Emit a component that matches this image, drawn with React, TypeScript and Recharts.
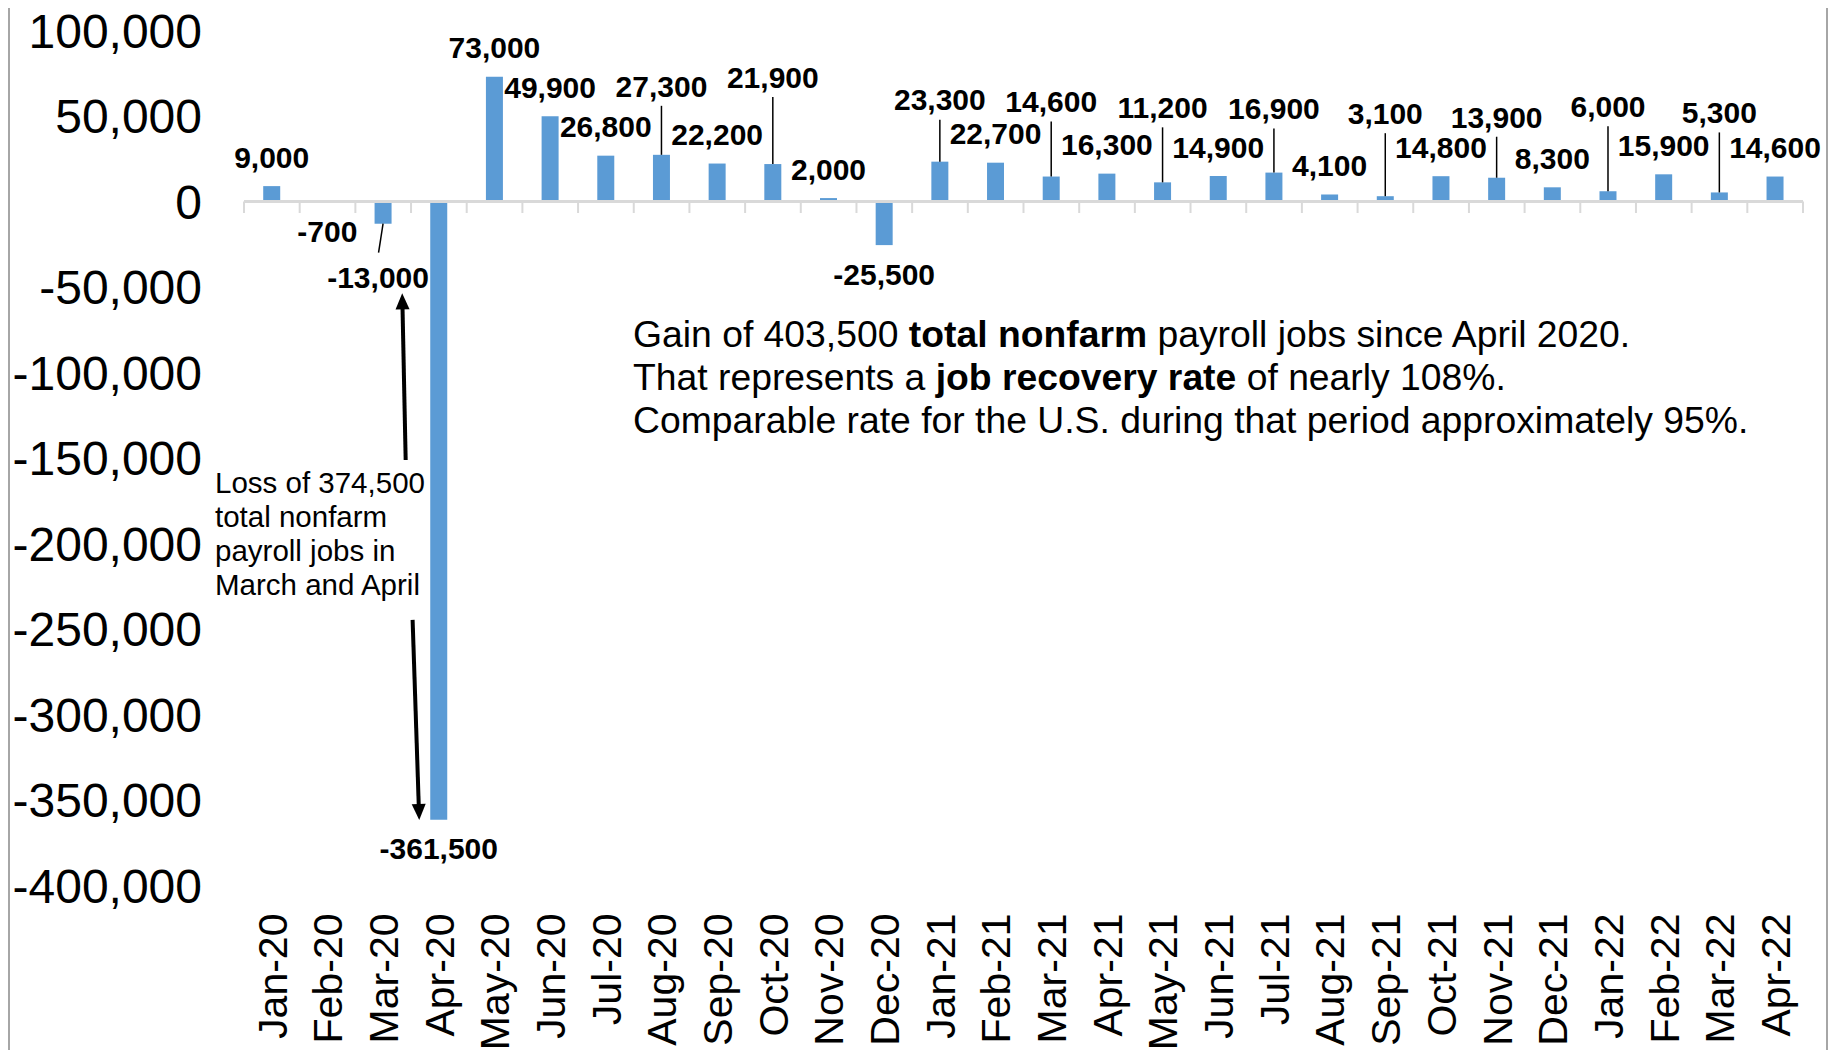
import { BarChart, Bar, XAxis, YAxis, ReferenceLine, LabelList } from "recharts";

// monthly change in total nonfarm payroll jobs
const months = [
    "Jan-20", "Feb-20", "Mar-20", "Apr-20", "May-20", "Jun-20", "Jul-20", "Aug-20", "Sep-20", "Oct-20",
    "Nov-20", "Dec-20", "Jan-21", "Feb-21", "Mar-21", "Apr-21", "May-21", "Jun-21", "Jul-21", "Aug-21",
    "Sep-21", "Oct-21", "Nov-21", "Dec-21", "Jan-22", "Feb-22", "Mar-22", "Apr-22",
];

const jobChange = [
    9000, -700, -13000, -361500, 73000, 49900, 26800, 27300, 22200, 21900,
    2000, -25500, 23300, 22700, 14600, 16300, 11200, 14900, 16900, 4100,
    3100, 14800, 13900, 8300, 6000, 15900, 5300, 14600,
];

const yTicks = [100000, 50000, 0, -50000, -100000, -150000, -200000, -250000, -300000, -350000, -400000];

const data = months.map((month, i) => ({ month, value: jobChange[i] }));

// labels that were dragged away from their bar (px), these get a leader line
const labelLift: Record<string, number> = {
    "Mar-20": 24, "Aug-20": 40, "Oct-20": 58, "Jan-21": 33, "Mar-21": 46, "May-21": 46,
    "Jul-21": 35, "Sep-21": 54, "Nov-21": 32, "Jan-22": 56, "Mar-22": 51,
};
const labelShiftX: Record<string, number> = { "Mar-20": -5 };

// annotation arrows, in (category position, value) space
const arrowUp = [{ x: 2.8, y: -151200 }, { x: 2.74, y: -53700 }];
const arrowDown = [{ x: 2.92, y: -244700 }, { x: 3.035, y: -361700 }];

const FONT = "'Liberation Sans', Arial, sans-serif";
const BAR_COLOR = "#5B9BD5";
const fmt = (v: number) => v.toLocaleString("en-US");

function ValueLabel(props: any) {
    const vb = props.viewBox ?? props;
    const { x, y, width, height } = vb;
    const value = Number(props.value);
    const month = months[props.index] ?? "";
    const top = Math.min(y, y + height);
    const bottom = Math.max(y, y + height);
    const cx = x + width / 2;
    const lift = labelLift[month] ?? 0;
    const lx = cx + (labelShiftX[month] ?? 0);
    const ly = value >= 0 ? top - 29 - lift : bottom + 29 + lift;
    let leader = null;
    if (lift) {
        leader = value >= 0
            ? <line x1={cx} y1={ly + 20} x2={cx} y2={top} stroke="#000" strokeWidth={1.5} />
            : <line x1={lx + 0.5} y1={ly - 24} x2={cx} y2={bottom} stroke="#000" strokeWidth={1.5} />;
    }
    return (
        <g>
            {leader}
            <text x={lx} y={ly} dy="0.36em" textAnchor="middle" fontSize={30} fontWeight="bold" fontFamily={FONT} fill="#000">
                {fmt(value)}
            </text>
        </g>
    );
}

function MonthTick({ x, y, payload }: any) {
    return (
        <text x={x} y={y} transform={`rotate(-90 ${x} ${y})`} textAnchor="end" dy="0.36em" fontSize={41} fontFamily={FONT} fill="#000">
            {payload.value}
        </text>
    );
}

// gray zero line with tick marks between categories
function ZeroAxis(props: any) {
    const { x1, x2, y1 } = props;
    const n = months.length;
    const step = (x2 - x1) / n;
    return (
        <g>
            {Array.from({ length: n + 1 }, (_, i) => (
                <line key={i} x1={x1 + i * step} x2={x1 + i * step} y1={y1} y2={y1 + 11.5} stroke="#D9D9D9" strokeWidth={2} />
            ))}
            <line x1={x1} x2={x2} y1={y1} y2={y1} stroke="#D9D9D9" strokeWidth={3} />
        </g>
    );
}

function Arrow(props: any) {
    const { x1, y1, x2, y2 } = props;
    const len = Math.hypot(x2 - x1, y2 - y1) || 1;
    const ux = (x2 - x1) / len;
    const uy = (y2 - y1) / len;
    const head = 16;
    const half = 7;
    const bx = x2 - ux * head;
    const by = y2 - uy * head;
    const pts = `${x2},${y2} ${bx - uy * half},${by + ux * half} ${bx + uy * half},${by - ux * half}`;
    return (
        <g>
            <line x1={x1} y1={y1} x2={bx + ux * 2} y2={by + uy * 2} stroke="#000" strokeWidth={4} />
            <polygon points={pts} fill="#000" />
        </g>
    );
}

export default function App() {
    return (
        <div style={{ position: "relative", width: 1820, height: 1042, borderLeft: "2px solid #A6A6A6", borderRight: "2px solid #A6A6A6", boxSizing: "border-box", overflow: "hidden", fontFamily: FONT }}>
            <BarChart width={1816} height={1042} data={data} margin={{ top: 22.5, right: 23, bottom: 0, left: 0 }} barCategoryGap="34.5%">
                <XAxis dataKey="month" interval={0} axisLine={false} tickLine={false} tickSize={0} tickMargin={28} height={164.5} tick={<MonthTick />} />
                <XAxis xAxisId="pos" type="number" domain={[0, months.length]} hide />
                <YAxis
                    domain={[-400000, 100000]}
                    ticks={yTicks}
                    interval={0}
                    width={234}
                    axisLine={false}
                    tickLine={false}
                    tickSize={0}
                    tickMargin={42}
                    tickFormatter={fmt}
                    tick={{ fontSize: 48, fill: "#000", fontFamily: FONT }}
                />
                <ReferenceLine y={0} shape={ZeroAxis} />
                <Bar dataKey="value" fill={BAR_COLOR} isAnimationActive={false}>
                    <LabelList dataKey="value" content={ValueLabel} />
                </Bar>
                <ReferenceLine xAxisId="pos" segment={arrowUp} shape={Arrow} />
                <ReferenceLine xAxisId="pos" segment={arrowDown} shape={Arrow} />
            </BarChart>

            <div style={{ position: "absolute", left: 205, top: 458, fontSize: 29.5, lineHeight: "34px", color: "#000", whiteSpace: "nowrap" }}>
                Loss of 374,500<br />
                total nonfarm<br />
                payroll jobs in<br />
                March and April
            </div>

            <div style={{ position: "absolute", left: 623, top: 305, fontSize: 37.3, lineHeight: "43px", color: "#000", whiteSpace: "nowrap" }}>
                Gain of 403,500 <b>total nonfarm</b> payroll jobs since April 2020.<br />
                That represents a <b>job recovery rate</b> of nearly 108%.<br />
                Comparable rate for the U.S. during that period approximately 95%.
            </div>
        </div>
    );
}
